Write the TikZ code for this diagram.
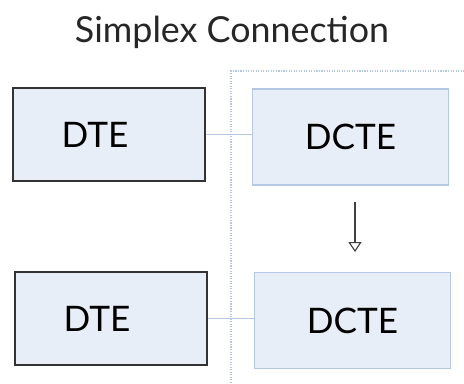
\documentclass[tikz,border=0pt]{standalone}
\usepackage{fontspec}
\setmainfont{Lato}
\usetikzlibrary{arrows.meta}
\definecolor{boxfill}{HTML}{E8EEF7}
\definecolor{paleline}{HTML}{B4C8E4}
\tikzset{
  dte/.style={draw=black!80,line width=1.3pt,fill=boxfill,minimum width=4.8cm,minimum height=2.33cm,font=\fontsize{25}{30}\selectfont},
  dcte/.style={draw=paleline,line width=.8pt,fill=boxfill,minimum width=4.88cm,minimum height=2.4cm,font=\fontsize{25}{30}\selectfont},
  link/.style={draw=paleline,line width=1pt}
}

\begin{document}
\begin{tikzpicture}[x=0.025cm,y=-0.025cm]
  \useasboundingbox (0,0) rectangle (464,383);
  \draw[paleline,densely dotted,line width=.8pt] (231,383) -- (231,71) -- (464,71);
  \node[font=\fontsize{25.5}{30}\selectfont,anchor=base,text=black!85] (title) at (232,42) {Simplex Connection};
  \node[dte] (dte1) at (109,134.5) {DTE\hspace*{0.7cm}};
  \node[dcte] (dcte1) at (350.5,137) {DCTE};
  \node[dte] (dte2) at (111,318.5) {DTE\hspace*{0.7cm}};
  \node[dcte] (dcte2) at (352.5,320.5) {DCTE};
  \draw[link] (dte1.east) -- (dte1.east -| dcte1.west);
  \draw[link] (dte2.east) -- (dte2.east -| dcte2.west);
  \coordinate (from) at (355,202);
  \coordinate (to) at (355,252);
  \draw[black!75,line width=.8pt,-{Triangle[open,width=0.33cm,length=0.25cm]}] (from) -- (to);
\end{tikzpicture}
\end{document}
